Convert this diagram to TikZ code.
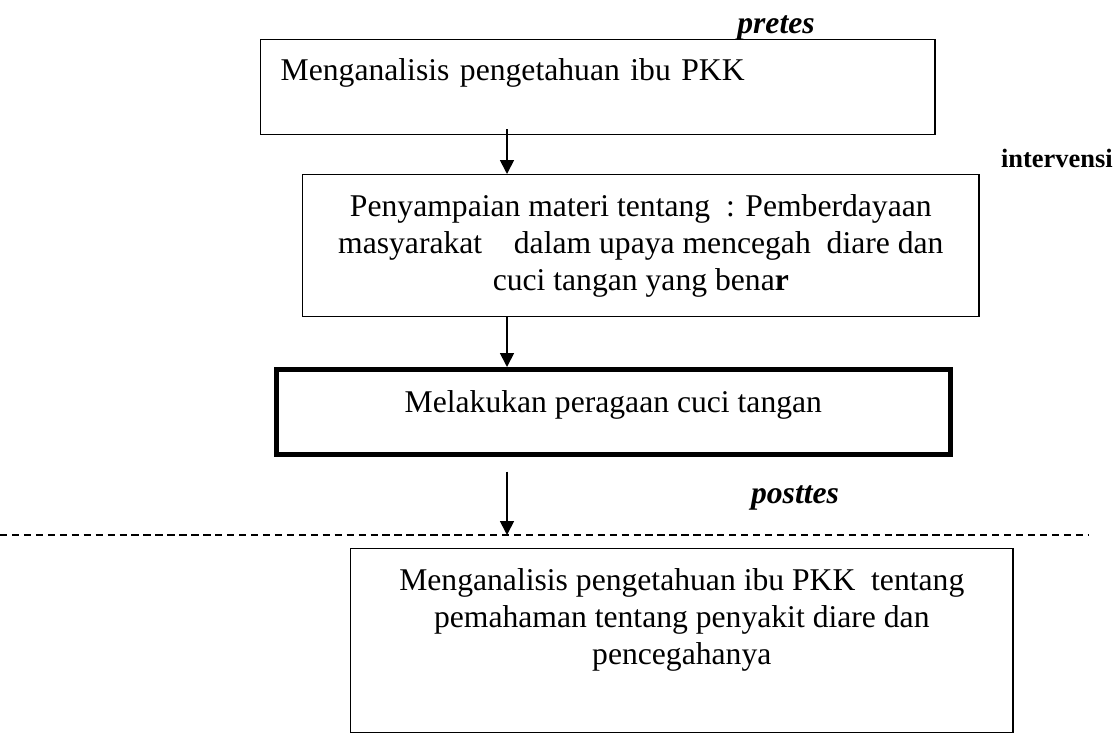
\documentclass[tikz,border=0pt]{standalone}
\usepackage{fontspec}
\setmainfont{Liberation Serif}
\usetikzlibrary{arrows.meta,calc}
\newcommand{\bodysize}{\fontsize{22.5}{26.5}\selectfont}
\newcommand{\labelsize}{\fontsize{18.8}{22}\selectfont}

\begin{document}
\begin{tikzpicture}[x=0.025cm,y=-0.025cm,
  box/.style={draw, line width=1pt, inner sep=0pt, font=\bodysize},
  arr/.style={-{Triangle[width=0.35cm,length=0.35cm]}, line width=1.2pt},
  tag/.style={font=\bodysize\bfseries\itshape, inner sep=0pt}]
  \useasboundingbox (0,0) rectangle (1115,733);
  \coordinate (ax) at (507,0);
  \coordinate (dl) at (0,535);
  \coordinate (dr) at (1088,535);
  \node[box, anchor=north west, text width=15.85cm, inner xsep=0.5cm, inner ysep=0.375cm,
        align=left, text height=0.65cm, text depth=0.975cm] (analisis) at (260,39)
        {Menganalisis pengetahuan ibu PKK};
  \node[box, anchor=north west, minimum width=16.9cm, minimum height=3.55cm, align=center] (materi) at (302,174)
        {Penyampaian materi tentang\ \ : Pemberdayaan\\
         masyarakat\ \ \ \ dalam upaya mencegah\ \ diare dan\\
         cuci tangan yang bena\textbf{r}};
  \node[box, line width=3.2pt, anchor=north west, minimum width=16.85cm, inner ysep=0.425cm,
        text height=0.65cm, text depth=0.625cm] (peragaan) at (274,367)
        {Melakukan peragaan cuci tangan};
  \node[box, anchor=north west, minimum width=16.55cm, minimum height=4.6cm, align=center] (hasil) at (350,548)
        {Menganalisis pengetahuan ibu PKK\ \ tentang\\
         pemahaman tentang penyakit diare dan\\
         pencegahanya\\ \strut};
  \node[tag, anchor=base] (pretes) at (776,33) {pretes};
  \node[font=\labelsize\bfseries, inner sep=0pt, anchor=base east] (intervensi) at (1113,167) {intervensi};
  \node[tag, anchor=base] (posttes) at (795,503) {posttes};
  \draw[arr] ($(analisis.south -| ax)+(0,-6)$) -- (materi.north -| ax);
  \draw[arr] (materi.south -| ax) -- (peragaan.north -| ax);
  \draw[arr] ($(peragaan.south -| ax)+(0,15)$) -- (dl -| ax);
  \draw[line width=1pt, dash pattern=on 5.2pt off 3.3pt] (dl) -- (dr);
\end{tikzpicture}
\end{document}
